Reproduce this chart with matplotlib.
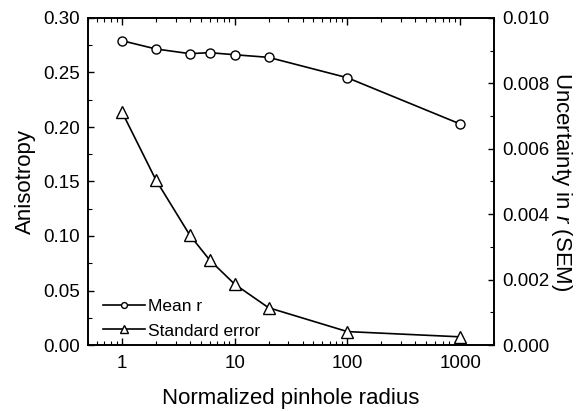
import matplotlib
matplotlib.use('Agg')
from matplotlib import pyplot as plt

plt.rcParams['font.family'] = ['Liberation Sans', 'DejaVu Sans']
plt.rcParams['mathtext.fontset'] = 'custom'
plt.rcParams['mathtext.it'] = 'Liberation Sans:italic'
plt.rcParams['mathtext.rm'] = 'Liberation Sans'

radius = [1, 2, 4, 6, 10, 20, 100, 1000]
mean_r = [0.2792, 0.2716, 0.2673, 0.2682, 0.2663, 0.2639, 0.2452, 0.2028]
sem = [0.00713, 0.00505, 0.00336, 0.00260, 0.00186, 0.00114, 0.00041, 0.00025]

fig = plt.figure(figsize=(5.79, 4.11), dpi=100)
ax = fig.add_axes([88 / 579, 66 / 411, 406 / 579, 327 / 411])
ax2 = ax.twinx()

l1, = ax.plot(radius, mean_r, '-o', color='black', mfc='white', mec='black',
              ms=6.5, lw=1.2, mew=1.0, label='Mean r')
l2, = ax2.plot(radius, sem, '-^', color='black', mfc='white', mec='black',
               ms=8, lw=1.2, mew=1.0, label='Standard error')

ax.set_xscale('log')
ax.set_xlim(0.5, 2000)
ax.set_ylim(0, 0.30)
ax2.set_ylim(0, 0.010)
ax.set_yticks([0, 0.05, 0.10, 0.15, 0.20, 0.25, 0.30])
ax.set_yticks([0.025, 0.075, 0.125, 0.175, 0.225, 0.275], minor=True)
ax.set_yticklabels(['0.00', '0.05', '0.10', '0.15', '0.20', '0.25', '0.30'])
ax2.set_yticks([0, 0.002, 0.004, 0.006, 0.008, 0.010])
ax2.set_yticks([0.001, 0.003, 0.005, 0.007, 0.009], minor=True)
ax2.set_yticklabels(['0.000', '0.002', '0.004', '0.006', '0.008', '0.010'])
ax.set_xticks([1, 10, 100, 1000])
ax.set_xticklabels(['1', '10', '100', '1000'])

for a in (ax, ax2):
    for s in a.spines.values():
        s.set_linewidth(1.2)
ax.tick_params(axis='x', which='both', direction='in', top=True, labelsize=13.5, pad=7)
ax.tick_params(axis='x', which='major', length=5, width=1.0)
ax.tick_params(axis='x', which='minor', length=3, width=0.8)
for a in (ax, ax2):
    a.tick_params(axis='y', which='major', direction='in', length=4, width=1.0,
                  labelsize=13.5, pad=6)
    a.tick_params(axis='y', which='minor', direction='in', length=3, width=0.8)

ax.set_xlabel('Normalized pinhole radius', fontsize=16, labelpad=12)
ax.set_ylabel('Anisotropy', fontsize=16, labelpad=5)
ax2.set_ylabel('Uncertainty in $r$ (SEM)', fontsize=16, rotation=270,
               ha='center', va='center')
ax2.yaxis.set_label_coords(1.167, 0.5)

ax.legend([l1, l2], ['Mean r', 'Standard error'], loc='lower left', frameon=False,
          fontsize=12.5, handlelength=2.4, handletextpad=0.15, markerscale=0.65,
          borderaxespad=0.2, labelspacing=0.55, bbox_to_anchor=(0.012, -0.012))

fig.savefig('out.png', dpi=100)
